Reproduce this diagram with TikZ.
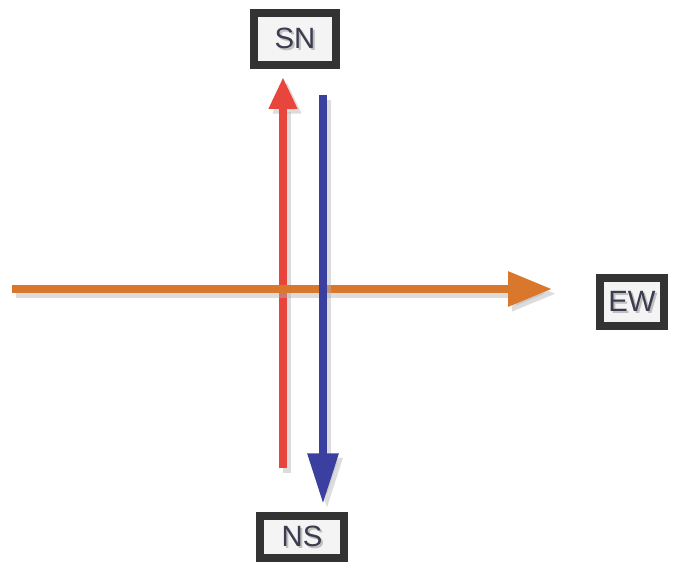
\documentclass[tikz,border=0pt]{standalone}
\usepackage{fontspec}
\setmainfont{Liberation Sans}
\usetikzlibrary{arrows.meta,shadows}
\definecolor{bordergray}{HTML}{333333}
\definecolor{boxfill}{HTML}{F4F4F4}
\definecolor{txtcol}{HTML}{3C3C50}
\definecolor{redarr}{HTML}{E8453C}
\definecolor{bluearr}{HTML}{3B3FA0}
\definecolor{orangearr}{HTML}{D9782D}
\tikzset{
  labelbox/.style={draw=bordergray, line width=6pt, fill=boxfill, inner sep=0pt,
    font=\fontsize{22}{22}\selectfont, text=txtcol,
    drop shadow={shadow xshift=3pt, shadow yshift=-3pt, fill=gray!60, opacity=0.6}},
  shadowline/.style={draw=gray!60, opacity=0.45, transform canvas={shift={(3pt,-3.5pt)}}},
}
\newcommand{\shtext}[1]{\makebox[0pt][l]{\hspace{1.5pt}\raisebox{-1.5pt}{\textcolor{gray!50}{#1}}}#1}
\begin{document}
\begin{tikzpicture}[x=0.75pt,y=-0.75pt]
\useasboundingbox (0,0) rectangle (676,566);
% label boxes
\node[labelbox, minimum width=61.5pt, minimum height=39pt] (SN) at (295,39) {\shtext{SN}};
\node[labelbox, minimum width=48pt, minimum height=36pt] (EW) at (632,302) {\shtext{EW}};
\node[labelbox, minimum width=63pt, minimum height=31.5pt] (NS) at (302,537) {\shtext{NS}};
% coordinates of free ends
\coordinate (rs) at (283,468);
\coordinate (bs) at (323,95);
\coordinate (os) at (12,289);
% red arrow (bottom layer)
\draw[shadowline, line width=6pt, -{Triangle[length=24pt,width=20pt]}] (rs) -- ([yshift=-6pt]rs |- SN.south);
\draw[redarr, line width=6pt, -{Triangle[length=24pt,width=20pt]}] (rs) -- ([yshift=-6pt]rs |- SN.south);
% orange arrow (middle layer)
\draw[shadowline, line width=6pt, -{Triangle[length=33pt,width=25pt]}] (os) -- ([xshift=-33pt]os -| EW.west);
\draw[orangearr, line width=6pt, -{Triangle[length=33pt,width=25pt]}] (os) -- ([xshift=-33pt]os -| EW.west);
% blue arrow (top layer)
\draw[shadowline, line width=6pt, -{Triangle[length=38pt,width=22pt]}] (bs) -- ([yshift=6pt]bs |- NS.north);
\draw[bluearr, line width=6pt, -{Triangle[length=38pt,width=22pt]}] (bs) -- ([yshift=6pt]bs |- NS.north);
\end{tikzpicture}
\end{document}
